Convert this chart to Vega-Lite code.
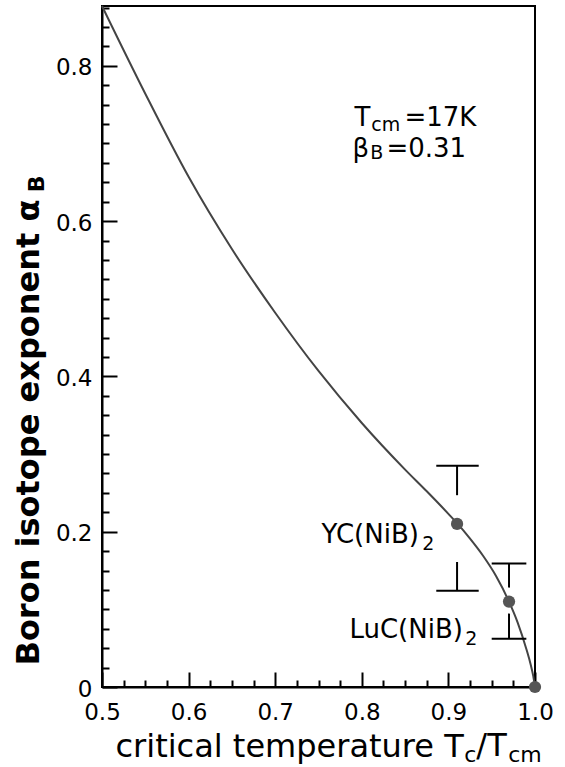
{
  "$schema": "https://vega.github.io/schema/vega-lite/v6.json",
  "width": 433,
  "height": 681,
  "autosize": {"type": "none"},
  "padding": {"left": 102, "top": 6, "right": 30, "bottom": 80},
  "background": "white",
  "config": {
    "font": "DejaVu Sans",
    "view": {"stroke": "black", "strokeWidth": 2},
    "axis": {"grid": false, "domainColor": "black", "domainWidth": 2, "tickColor": "black", "tickWidth": 2, "labelColor": "black", "titleColor": "black", "labelFont": "DejaVu Sans", "titleFont": "DejaVu Sans"}
  },
  "datasets": {
    "curve": [
      {"tc": 0.5, "alpha": 0.877},
      {"tc": 0.55, "alpha": 0.764},
      {"tc": 0.6, "alpha": 0.657},
      {"tc": 0.65, "alpha": 0.564},
      {"tc": 0.7, "alpha": 0.482},
      {"tc": 0.75, "alpha": 0.407},
      {"tc": 0.8, "alpha": 0.340},
      {"tc": 0.85, "alpha": 0.280},
      {"tc": 0.875, "alpha": 0.252},
      {"tc": 0.9, "alpha": 0.223},
      {"tc": 0.91, "alpha": 0.211},
      {"tc": 0.925, "alpha": 0.191},
      {"tc": 0.94, "alpha": 0.169},
      {"tc": 0.955, "alpha": 0.143},
      {"tc": 0.97, "alpha": 0.110},
      {"tc": 0.98, "alpha": 0.083},
      {"tc": 0.99, "alpha": 0.049},
      {"tc": 0.995, "alpha": 0.029},
      {"tc": 0.998, "alpha": 0.014},
      {"tc": 1.0, "alpha": 0.0}
    ],
    "points": [
      {"compound": "YC(NiB)2", "tc": 0.91, "alpha": 0.21},
      {"compound": "LuC(NiB)2", "tc": 0.97, "alpha": 0.11},
      {"compound": "limit", "tc": 1.0, "alpha": 0.0}
    ],
    "errbars": [
      {"compound": "YC(NiB)2", "tc": 0.91, "tc2": 0.91, "alpha": 0.285, "alpha2": 0.247},
      {"compound": "YC(NiB)2", "tc": 0.91, "tc2": 0.91, "alpha": 0.161, "alpha2": 0.124},
      {"compound": "YC(NiB)2", "tc": 0.886, "tc2": 0.935, "alpha": 0.285, "alpha2": 0.285},
      {"compound": "YC(NiB)2", "tc": 0.886, "tc2": 0.935, "alpha": 0.124, "alpha2": 0.124},
      {"compound": "LuC(NiB)2", "tc": 0.97, "tc2": 0.97, "alpha": 0.159, "alpha2": 0.128},
      {"compound": "LuC(NiB)2", "tc": 0.97, "tc2": 0.97, "alpha": 0.0945, "alpha2": 0.062},
      {"compound": "LuC(NiB)2", "tc": 0.95, "tc2": 0.99, "alpha": 0.159, "alpha2": 0.159},
      {"compound": "LuC(NiB)2", "tc": 0.95, "tc2": 0.99, "alpha": 0.062, "alpha2": 0.062}
    ],
    "labelMain": [
      {"text": "T", "tc": 0.7915, "alpha": 0.723},
      {"text": "=17K", "tc": 0.8492, "alpha": 0.723},
      {"text": "β", "tc": 0.7892, "alpha": 0.6823},
      {"text": "=0.31", "tc": 0.8284, "alpha": 0.6823},
      {"text": "YC(NiB)", "tc": 0.7534, "alpha": 0.186},
      {"text": "LuC(NiB)", "tc": 0.7857, "alpha": 0.0635}
    ],
    "labelSub": [
      {"text": "cm", "tc": 0.8110, "alpha": 0.7155},
      {"text": "B", "tc": 0.8099, "alpha": 0.6797},
      {"text": "2", "tc": 0.8699, "alpha": 0.177},
      {"text": "2", "tc": 0.9195, "alpha": 0.0546}
    ],
    "xtitleMain": [
      {"text": "/", "tc": 0.9322, "alpha": -0.0886},
      {"text": "T", "tc": 0.9449, "alpha": -0.0886}
    ],
    "xtitleSub": [
      {"text": "c", "tc": 0.9183, "alpha": -0.0963},
      {"text": "cm", "tc": 0.9691, "alpha": -0.0963}
    ],
    "ytitleSub": [
      {"text": "B", "tc": 0.4328, "alpha": 0.637}
    ]
  },
  "encoding": {
    "x": {
      "field": "tc", "type": "quantitative",
      "scale": {"domain": [0.5, 1.0], "nice": false, "zero": false},
      "axis": {
        "values": [0.5, 0.525, 0.55, 0.575, 0.6, 0.625, 0.65, 0.675, 0.7, 0.725, 0.75, 0.775, 0.8, 0.825, 0.85, 0.875, 0.9, 0.925, 0.95, 0.975, 1.0],
        "tickSize": {"condition": {"test": "abs(datum.value*10 - round(datum.value*10)) < 0.001", "value": -15}, "value": -7},
        "labelExpr": "abs(datum.value*10 - round(datum.value*10)) < 0.001 ? format(datum.value, '.1f') : ''",
        "labelFontSize": 23,
        "labelPadding": 29,
        "labelBaseline": "top",
        "labelFlush": false,
        "labelOverlap": false,
        "labelBound": false,
        "title": "critical temperature T",
        "titleFontSize": 32,
        "titleFontWeight": "normal",
        "titleAlign": "left",
        "titleBaseline": "alphabetic",
        "titleAnchor": "start",
        "titleX": 13,
        "titleY": 69
      }
    },
    "y": {
      "field": "alpha", "type": "quantitative",
      "scale": {"domain": [0, 0.877], "nice": false, "zero": false},
      "axis": {
        "values": [0, 0.025, 0.05, 0.075, 0.1, 0.125, 0.15, 0.175, 0.2, 0.225, 0.25, 0.275, 0.3, 0.325, 0.35, 0.375, 0.4, 0.425, 0.45, 0.475, 0.5, 0.525, 0.55, 0.575, 0.6, 0.625, 0.65, 0.675, 0.7, 0.725, 0.75, 0.775, 0.8, 0.825, 0.85, 0.875],
        "tickSize": {"condition": {"test": "abs(datum.value*5 - round(datum.value*5)) < 0.001", "value": -15}, "value": -7},
        "labelExpr": "abs(datum.value*5 - round(datum.value*5)) < 0.001 ? (datum.value == 0 ? '0' : format(datum.value, '.1f')) : ''",
        "labelFontSize": 23,
        "labelPadding": 25,
        "labelOffset": 2,
        "labelFlush": false,
        "labelOverlap": false,
        "labelBound": false,
        "title": "Boron isotope exponent α",
        "titleFontSize": 32,
        "titleFontWeight": "bold",
        "titleAngle": 270,
        "titleAlign": "left",
        "titleBaseline": "alphabetic",
        "titleAnchor": "start",
        "titleX": -64,
        "titleY": 659
      }
    }
  },
  "layer": [
    {
      "data": {"name": "curve"},
      "mark": {"type": "line", "interpolate": "monotone", "color": "#444444", "strokeWidth": 2}
    },
    {
      "data": {"name": "errbars"},
      "mark": {"type": "rule", "color": "black", "strokeWidth": 2},
      "encoding": {
        "x2": {"field": "tc2"},
        "y2": {"field": "alpha2"}
      }
    },
    {
      "data": {"name": "points"},
      "mark": {"type": "point", "shape": "circle", "filled": true, "size": 150, "color": "#555555", "opacity": 1}
    },
    {
      "data": {"name": "labelMain"},
      "mark": {"type": "text", "align": "left", "baseline": "alphabetic", "fontSize": 26, "color": "black", "font": "DejaVu Sans"},
      "encoding": {"text": {"field": "text"}}
    },
    {
      "data": {"name": "labelSub"},
      "mark": {"type": "text", "align": "left", "baseline": "alphabetic", "fontSize": 19, "color": "black", "font": "DejaVu Sans"},
      "encoding": {"text": {"field": "text"}}
    },
    {
      "data": {"name": "xtitleMain"},
      "mark": {"type": "text", "align": "left", "baseline": "alphabetic", "fontSize": 32, "color": "black", "font": "DejaVu Sans"},
      "encoding": {"text": {"field": "text"}}
    },
    {
      "data": {"name": "xtitleSub"},
      "mark": {"type": "text", "align": "left", "baseline": "alphabetic", "fontSize": 22, "color": "black", "font": "DejaVu Sans"},
      "encoding": {"text": {"field": "text"}}
    },
    {
      "data": {"name": "ytitleSub"},
      "mark": {"type": "text", "align": "left", "baseline": "alphabetic", "angle": 270, "fontSize": 22, "fontWeight": "bold", "color": "black", "font": "DejaVu Sans"},
      "encoding": {"text": {"field": "text"}}
    }
  ]
}
